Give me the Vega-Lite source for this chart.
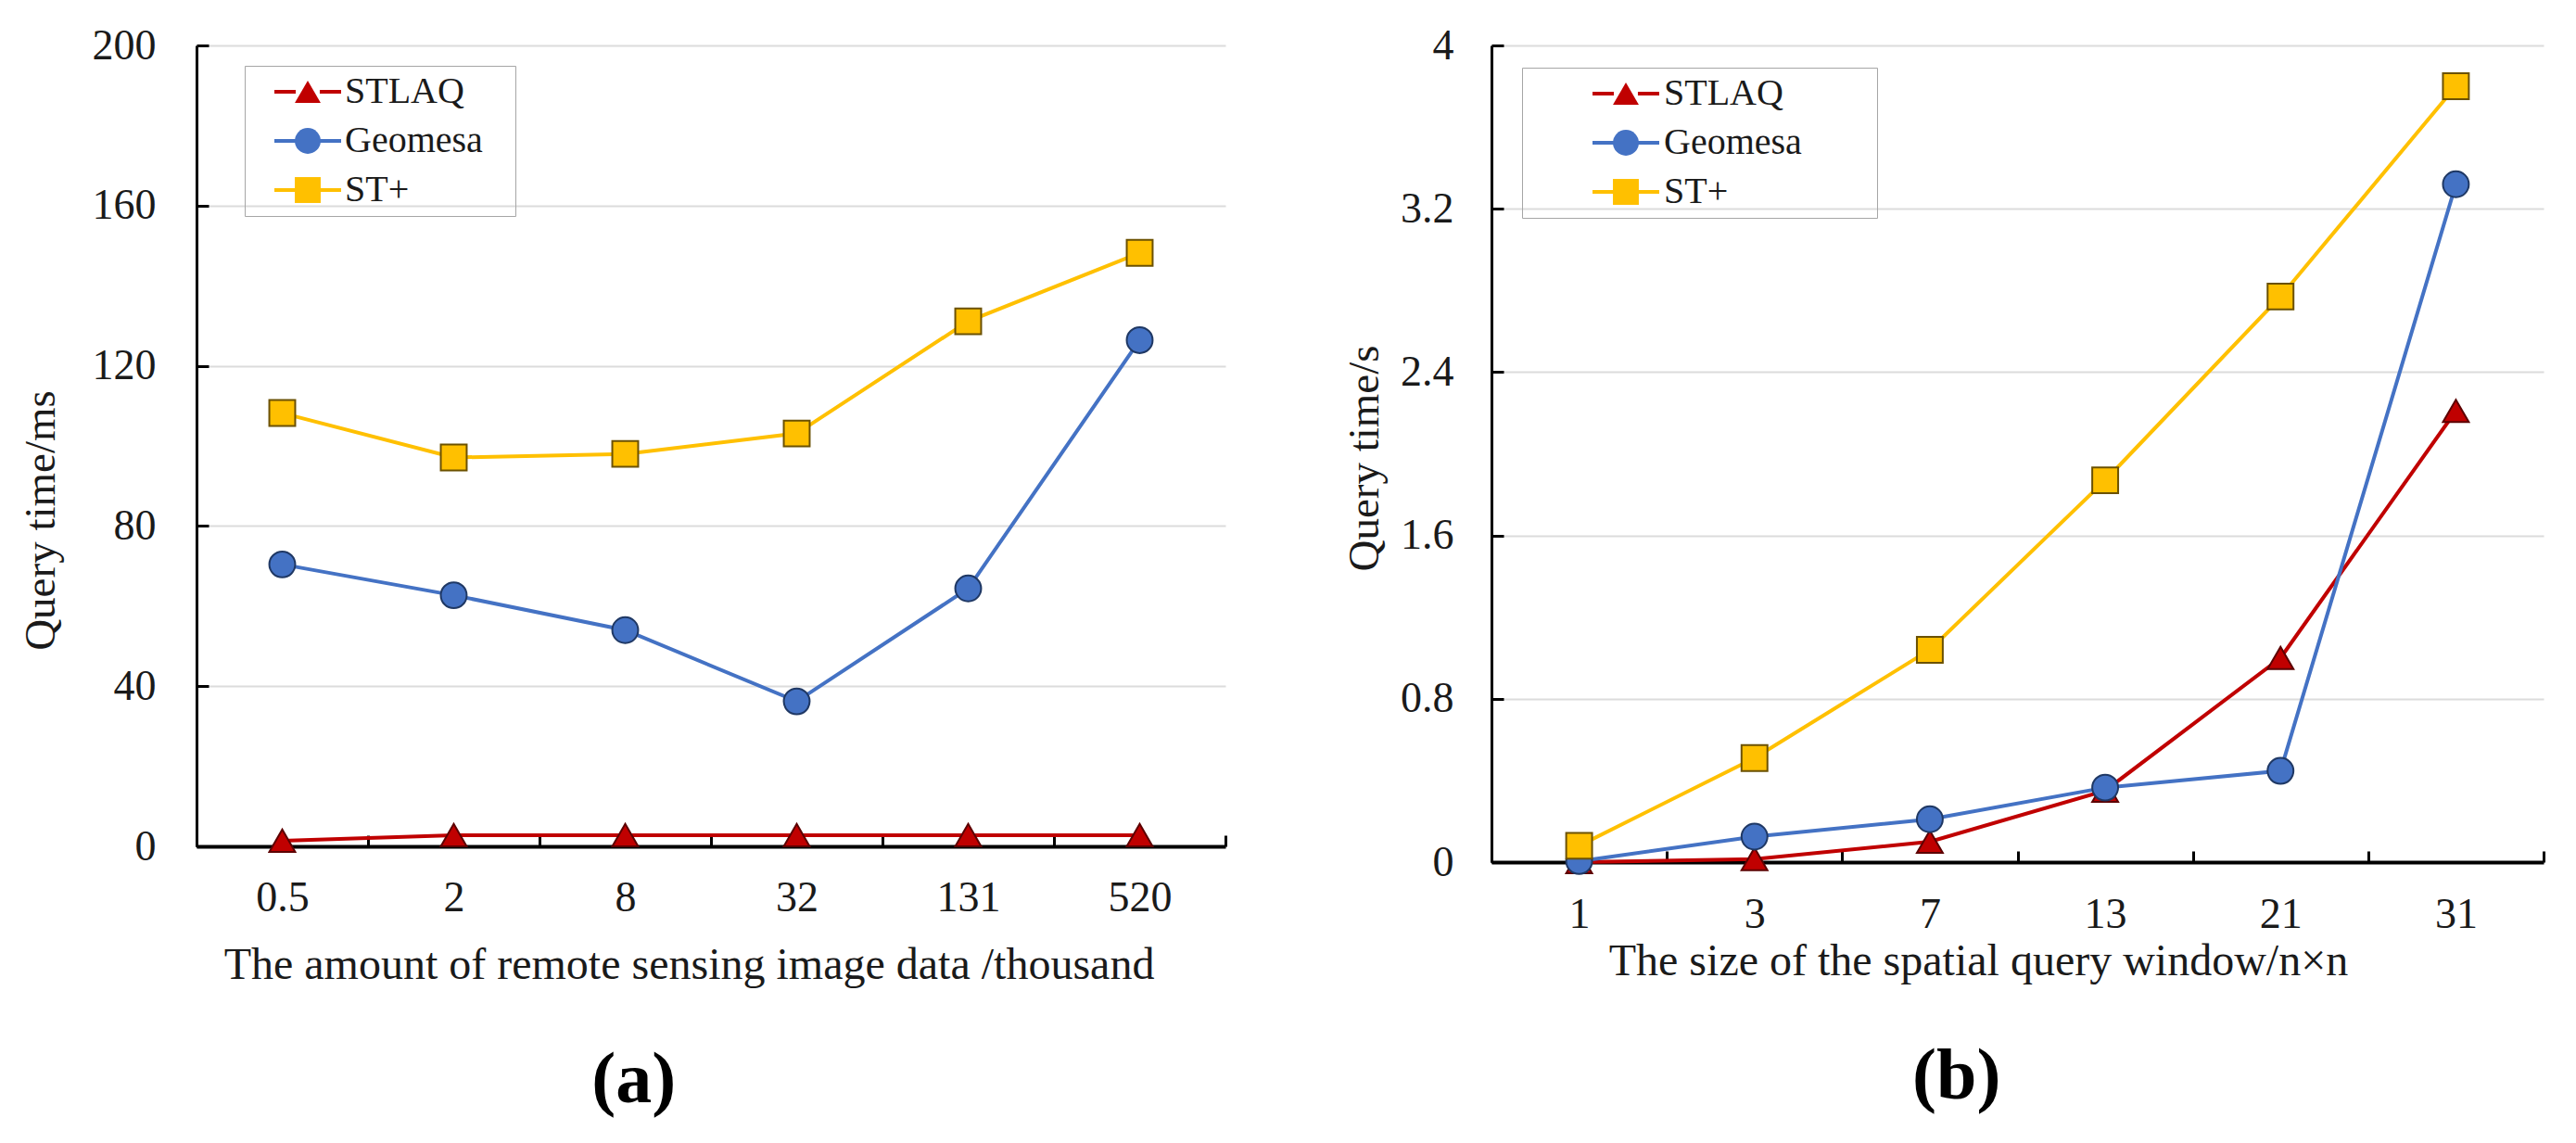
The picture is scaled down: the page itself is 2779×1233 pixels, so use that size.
{
  "$schema": "https://vega.github.io/schema/vega-lite/v6.json",
  "background": "white",
  "padding": {"left": 20, "top": 26, "right": 5, "bottom": 5},
  "config": {
    "font": "Liberation Serif",
    "view": {"stroke": null},
    "axis": {"labelFont": "Liberation Serif", "titleFont": "Liberation Serif", "labelColor": "#1a1a1a", "titleColor": "#1a1a1a", "titleFontWeight": "normal", "domainColor": "#000000", "tickColor": "#000000"},
    "legend": {"labelFont": "Liberation Serif", "labelColor": "#1a1a1a", "titleFont": "Liberation Serif"}
  },
  "datasets": {
    "a": [
      {"s": "STLAQ", "x": "0.5", "i": 0, "v": 1.4},
      {"s": "STLAQ", "x": "2", "i": 1, "v": 2.8},
      {"s": "STLAQ", "x": "8", "i": 2, "v": 2.8},
      {"s": "STLAQ", "x": "32", "i": 3, "v": 2.8},
      {"s": "STLAQ", "x": "131", "i": 4, "v": 2.8},
      {"s": "STLAQ", "x": "520", "i": 5, "v": 2.8},
      {"s": "Geomesa", "x": "0.5", "i": 0, "v": 70.4},
      {"s": "Geomesa", "x": "2", "i": 1, "v": 62.7},
      {"s": "Geomesa", "x": "8", "i": 2, "v": 54.0},
      {"s": "Geomesa", "x": "32", "i": 3, "v": 36.2},
      {"s": "Geomesa", "x": "131", "i": 4, "v": 64.4},
      {"s": "Geomesa", "x": "520", "i": 5, "v": 126.4},
      {"s": "ST+", "x": "0.5", "i": 0, "v": 108.2},
      {"s": "ST+", "x": "2", "i": 1, "v": 97.1},
      {"s": "ST+", "x": "8", "i": 2, "v": 98.0},
      {"s": "ST+", "x": "32", "i": 3, "v": 103.1},
      {"s": "ST+", "x": "131", "i": 4, "v": 131.1},
      {"s": "ST+", "x": "520", "i": 5, "v": 148.2}
    ],
    "b": [
      {"s": "STLAQ", "x": "1", "i": 0, "v": 0.0},
      {"s": "STLAQ", "x": "3", "i": 1, "v": 0.015},
      {"s": "STLAQ", "x": "7", "i": 2, "v": 0.1},
      {"s": "STLAQ", "x": "13", "i": 3, "v": 0.35},
      {"s": "STLAQ", "x": "21", "i": 4, "v": 1.0},
      {"s": "STLAQ", "x": "31", "i": 5, "v": 2.21},
      {"s": "Geomesa", "x": "1", "i": 0, "v": 0.005},
      {"s": "Geomesa", "x": "3", "i": 1, "v": 0.125},
      {"s": "Geomesa", "x": "7", "i": 2, "v": 0.21},
      {"s": "Geomesa", "x": "13", "i": 3, "v": 0.365},
      {"s": "Geomesa", "x": "21", "i": 4, "v": 0.447},
      {"s": "Geomesa", "x": "31", "i": 5, "v": 3.32},
      {"s": "ST+", "x": "1", "i": 0, "v": 0.08},
      {"s": "ST+", "x": "3", "i": 1, "v": 0.51},
      {"s": "ST+", "x": "7", "i": 2, "v": 1.04},
      {"s": "ST+", "x": "13", "i": 3, "v": 1.87},
      {"s": "ST+", "x": "21", "i": 4, "v": 2.77},
      {"s": "ST+", "x": "31", "i": 5, "v": 3.8}
    ]
  },
  "spacing": 124,
  "resolve": {
    "scale": {"x": "independent", "y": "independent", "stroke": "independent", "fill": "independent", "shape": "independent"},
    "legend": {"stroke": "independent", "fill": "independent", "shape": "independent"}
  },
  "hconcat": [
    {
      "width": 1110,
      "height": 864,
      "data": {"name": "a"},
      "title": {"text": "(a)", "orient": "bottom", "anchor": "middle", "frame": "bounds", "fontSize": 78, "fontWeight": "bold", "font": "Liberation Serif", "color": "#000000", "offset": 62, "dx": 12},
      "encoding": {
        "x": {
          "field": "x", "type": "nominal", "bandPosition": 0.5,
          "scale": {"type": "band", "domain": ["0.5", "2", "8", "32", "131", "520"], "paddingInner": 0, "paddingOuter": 0},
          "axis": {"title": "The amount of remote sensing image data /thousand", "labelAngle": 0, "tickBand": "extent", "tickSize": -12, "tickWidth": 3, "domainWidth": 4, "labelPadding": 45, "labelFontSize": 46, "titleFontSize": 48, "titlePadding": 26, "titleX": 531, "grid": false}
        },
        "y": {
          "field": "v", "type": "quantitative",
          "scale": {"domain": [0, 200], "nice": false},
          "axis": {"title": "Query time/ms", "values": [0, 40, 80, 120, 160, 200], "format": "d", "tickSize": -13, "tickWidth": 3, "domainWidth": 3, "labelPadding": 57, "labelFontSize": 46, "grid": true, "gridColor": "#dcdcdc", "gridWidth": 2, "titleFontSize": 47, "titleX": -168, "titleY": 512, "titleBaseline": "middle", "titleAngle": 270}
        }
      },
      "layer": [
        {
          "mark": {"type": "line", "strokeWidth": 4},
          "encoding": {
            "order": {"field": "i", "type": "quantitative"},
            "stroke": {
              "field": "s", "type": "nominal",
              "scale": {"domain": ["Geomesa", "STLAQ", "ST+"], "range": ["#4472C4", "#C00000", "#FFC000"]},
              "legend": {"orient": "none", "legendX": 52, "legendY": 22, "title": null, "values": ["STLAQ", "Geomesa", "ST+"], "padding": 8, "symbolType": "M-2,0H-0.72M0.72,0H2", "symbolSize": 1296, "symbolStrokeWidth": 4, "symbolOffset": 40, "labelOffset": 20, "labelFont": "Liberation Serif", "labelFontSize": 40, "rowPadding": 13, "labelLimit": 500}
            }
          }
        },
        {
          "mark": {"type": "point", "filled": true, "size": 780, "strokeWidth": 2, "opacity": 1},
          "encoding": {
            "fill": {
              "field": "s", "type": "nominal",
              "scale": {"domain": ["STLAQ", "Geomesa", "ST+"], "range": ["#C00000", "#4472C4", "#FFC000"]},
              "legend": {"orient": "none", "legendX": 52, "legendY": 22, "title": null, "padding": 8, "strokeColor": "#a6a6a6", "symbolOffset": 40, "labelOffset": 196, "rowPadding": 13, "labelFontSize": 40, "labelExpr": "''", "symbolSize": 780, "encode": {"legend": {"update": {"strokeWidth": {"value": 2}}}, "symbols": {"update": {"stroke": {"value": "#3a3a3a"}, "strokeWidth": {"value": 2}, "opacity": {"value": 1}}}}}
            },
            "shape": {
              "field": "s", "type": "nominal",
              "scale": {"domain": ["STLAQ", "Geomesa", "ST+"], "range": ["triangle-up", "circle", "square"]},
              "legend": {"orient": "none", "legendX": 52, "legendY": 22, "title": null, "padding": 8, "strokeColor": "#a6a6a6", "symbolOffset": 40, "labelOffset": 196, "rowPadding": 13, "labelFontSize": 40, "labelExpr": "''", "symbolSize": 780, "encode": {"legend": {"update": {"strokeWidth": {"value": 2}}}, "symbols": {"update": {"stroke": {"value": "#3a3a3a"}, "strokeWidth": {"value": 2}, "opacity": {"value": 1}}}}}
            },
            "stroke": {
              "field": "s", "type": "nominal",
              "scale": {"domain": ["STLAQ", "Geomesa", "ST+"], "range": ["#5c0000", "#1f3864", "#6b5100"]},
              "legend": null
            }
          }
        }
      ],
      "resolve": {"scale": {"stroke": "independent"}}
    },
    {
      "width": 1135,
      "height": 881,
      "data": {"name": "b"},
      "title": {"text": "(b)", "orient": "bottom", "anchor": "middle", "frame": "bounds", "fontSize": 78, "fontWeight": "bold", "font": "Liberation Serif", "color": "#000000", "offset": 62, "dx": 14},
      "encoding": {
        "x": {
          "field": "x", "type": "nominal", "bandPosition": 0.5,
          "scale": {"type": "band", "domain": ["1", "3", "7", "13", "21", "31"], "paddingInner": 0, "paddingOuter": 0},
          "axis": {"title": "The size of the spatial query window/n×n", "labelAngle": 0, "tickBand": "extent", "tickSize": -12, "tickWidth": 3, "domainWidth": 4, "labelPadding": 46, "labelFontSize": 46, "titleFontSize": 48, "titlePadding": 4, "titleX": 525, "grid": false}
        },
        "y": {
          "field": "v", "type": "quantitative",
          "scale": {"domain": [0, 4], "nice": false},
          "axis": {"title": "Query time/s", "values": [0, 0.8, 1.6, 2.4, 3.2, 4], "format": "~g", "tickSize": -13, "tickWidth": 3, "domainWidth": 3, "labelPadding": 54, "labelFontSize": 46, "grid": true, "gridColor": "#dcdcdc", "gridWidth": 2, "titleFontSize": 47, "titleX": -137, "titleY": 445, "titleBaseline": "middle", "titleAngle": 270}
        }
      },
      "layer": [
        {
          "mark": {"type": "line", "strokeWidth": 4},
          "encoding": {
            "order": {"field": "i", "type": "quantitative"},
            "stroke": {
              "field": "s", "type": "nominal",
              "scale": {"domain": ["Geomesa", "STLAQ", "ST+"], "range": ["#4472C4", "#C00000", "#FFC000"]},
              "legend": {"orient": "none", "legendX": 33, "legendY": 24, "title": null, "values": ["STLAQ", "Geomesa", "ST+"], "padding": 8, "symbolType": "M-2,0H-0.72M0.72,0H2", "symbolSize": 1296, "symbolStrokeWidth": 4, "symbolOffset": 84, "labelOffset": 21, "labelFont": "Liberation Serif", "labelFontSize": 40, "rowPadding": 13, "labelLimit": 500}
            }
          }
        },
        {
          "mark": {"type": "point", "filled": true, "size": 780, "strokeWidth": 2, "opacity": 1},
          "encoding": {
            "fill": {
              "field": "s", "type": "nominal",
              "scale": {"domain": ["STLAQ", "Geomesa", "ST+"], "range": ["#C00000", "#4472C4", "#FFC000"]},
              "legend": {"orient": "none", "legendX": 33, "legendY": 24, "title": null, "padding": 8, "strokeColor": "#a6a6a6", "symbolOffset": 84, "labelOffset": 243, "rowPadding": 13, "labelFontSize": 40, "labelExpr": "''", "symbolSize": 780, "encode": {"legend": {"update": {"strokeWidth": {"value": 2}}}, "symbols": {"update": {"stroke": {"value": "#3a3a3a"}, "strokeWidth": {"value": 2}, "opacity": {"value": 1}}}}}
            },
            "shape": {
              "field": "s", "type": "nominal",
              "scale": {"domain": ["STLAQ", "Geomesa", "ST+"], "range": ["triangle-up", "circle", "square"]},
              "legend": {"orient": "none", "legendX": 33, "legendY": 24, "title": null, "padding": 8, "strokeColor": "#a6a6a6", "symbolOffset": 84, "labelOffset": 243, "rowPadding": 13, "labelFontSize": 40, "labelExpr": "''", "symbolSize": 780, "encode": {"legend": {"update": {"strokeWidth": {"value": 2}}}, "symbols": {"update": {"stroke": {"value": "#3a3a3a"}, "strokeWidth": {"value": 2}, "opacity": {"value": 1}}}}}
            },
            "stroke": {
              "field": "s", "type": "nominal",
              "scale": {"domain": ["STLAQ", "Geomesa", "ST+"], "range": ["#5c0000", "#1f3864", "#6b5100"]},
              "legend": null
            }
          }
        }
      ],
      "resolve": {"scale": {"stroke": "independent"}}
    }
  ]
}
